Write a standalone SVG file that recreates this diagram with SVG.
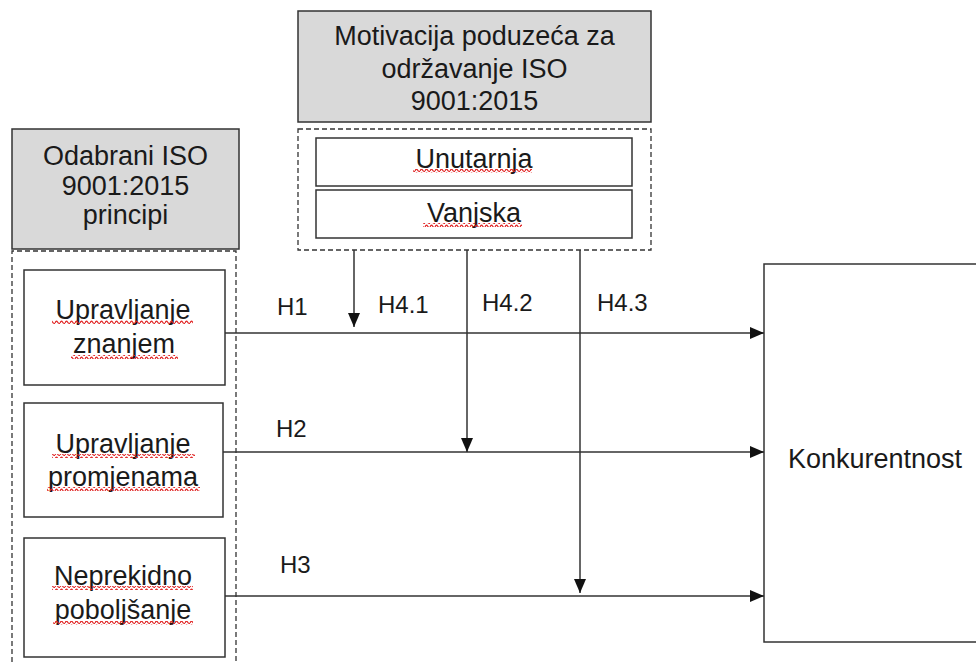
<svg xmlns="http://www.w3.org/2000/svg" width="976" height="663" viewBox="0 0 976 663">
<style>
  .box{fill:#fff;stroke:#333;stroke-width:1.5}
  .hdr{fill:#d9d9d9;stroke:#333;stroke-width:1.5}
  .dash{fill:none;stroke:#333;stroke-width:1.3;stroke-dasharray:5,3}
  .t{font-family:"Liberation Sans",Arial,sans-serif;font-size:27px;fill:#1a1a1a;text-anchor:middle}
  .lbl{font-family:"Liberation Sans",Arial,sans-serif;font-size:24px;fill:#1a1a1a}
  .ln{stroke:#333;stroke-width:1.5;fill:none}
  .sq{fill:url(#squig)}
</style>
<defs>
  <marker id="ah" viewBox="0 0 14 12" refX="14" refY="6" markerWidth="14" markerHeight="12" markerUnits="userSpaceOnUse" orient="auto">
    <path d="M0,0 L14,6 L0,12 Z" fill="#111"/>
  </marker>
  <pattern id="squig" x="0" y="0" width="5" height="4" patternUnits="userSpaceOnUse">
    <path d="M0,3 Q1.25,0 2.5,2 T5,3" fill="none" stroke="#e02020" stroke-width="1.2"/>
  </pattern>
</defs>

<g id="motivacija">
  <rect class="hdr" x="298" y="11" width="353" height="111"/>
  <text class="t" x="474.5" y="45">Motivacija poduzeća za</text>
  <text class="t" x="474.5" y="78">održavanje ISO</text>
  <text class="t" x="474.5" y="110">9001:2015</text>
</g>
<g id="motivacija-grupa">
  <rect class="dash" x="298" y="129" width="353" height="121"/>
</g>
<g id="unutarnja">
  <rect class="box" x="316" y="138" width="316" height="48"/>
  <text class="t" x="474" y="168">Unutarnja</text>
  <rect class="sq" x="413" y="169" width="119" height="4"/>
</g>
<g id="vanjska">
  <rect class="box" x="316" y="190" width="316" height="48"/>
  <text class="t" x="474" y="222">Vanjska</text>
  <rect class="sq" x="423" y="223" width="99" height="4"/>
</g>

<g id="principi">
  <rect class="hdr" x="12" y="129" width="227" height="120"/>
  <text class="t" x="125.5" y="165">Odabrani ISO</text>
  <text class="t" x="125.5" y="195">9001:2015</text>
  <text class="t" x="125.5" y="224">principi</text>
</g>
<g id="principi-grupa">
  <path class="dash" d="M12,670 L12,251 L236,251 L236,670"/>
</g>
<g id="znanje">
  <rect class="box" x="24" y="270" width="201" height="115"/>
  <text class="t" x="123" y="319">Upravljanje</text>
  <text class="t" x="124" y="353">znanjem</text>
  <rect class="sq" x="52" y="320" width="141" height="4"/>
  <rect class="sq" x="71" y="355" width="107" height="4"/>
</g>
<g id="promjene">
  <rect class="box" x="24" y="403" width="199" height="114"/>
  <text class="t" x="123" y="453">Upravljanje</text>
  <text class="t" x="123" y="486">promjenama</text>
  <rect class="sq" x="52" y="454" width="143" height="4"/>
  <rect class="sq" x="47" y="487" width="153" height="4"/>
</g>
<g id="poboljsanje">
  <rect class="box" x="24" y="538" width="201" height="119"/>
  <text class="t" x="123" y="585">Neprekidno</text>
  <text class="t" x="123" y="619">poboljšanje</text>
  <rect class="sq" x="52" y="586" width="141" height="4"/>
  <rect class="sq" x="53" y="621" width="140" height="4"/>
</g>

<g id="konkurentnost">
  <rect class="box" x="764" y="264" width="230" height="378"/>
  <text class="t" x="875" y="468">Konkurentnost</text>
</g>

<g id="connectors">
  <line class="ln" x1="225" y1="333" x2="764" y2="333" marker-end="url(#ah)"/>
  <line class="ln" x1="223" y1="452" x2="764" y2="452" marker-end="url(#ah)"/>
  <line class="ln" x1="225" y1="596" x2="764" y2="596" marker-end="url(#ah)"/>
  <line class="ln" x1="354" y1="250" x2="354" y2="327" marker-end="url(#ah)"/>
  <line class="ln" x1="467" y1="250" x2="467" y2="452" marker-end="url(#ah)"/>
  <line class="ln" x1="580" y1="250" x2="580" y2="593" marker-end="url(#ah)"/>
  <text class="lbl" x="277" y="315">H1</text>
  <text class="lbl" x="378" y="313">H4.1</text>
  <text class="lbl" x="482" y="311">H4.2</text>
  <text class="lbl" x="597" y="311">H4.3</text>
  <text class="lbl" x="276" y="437">H2</text>
  <text class="lbl" x="280" y="573">H3</text>
</g>
</svg>
